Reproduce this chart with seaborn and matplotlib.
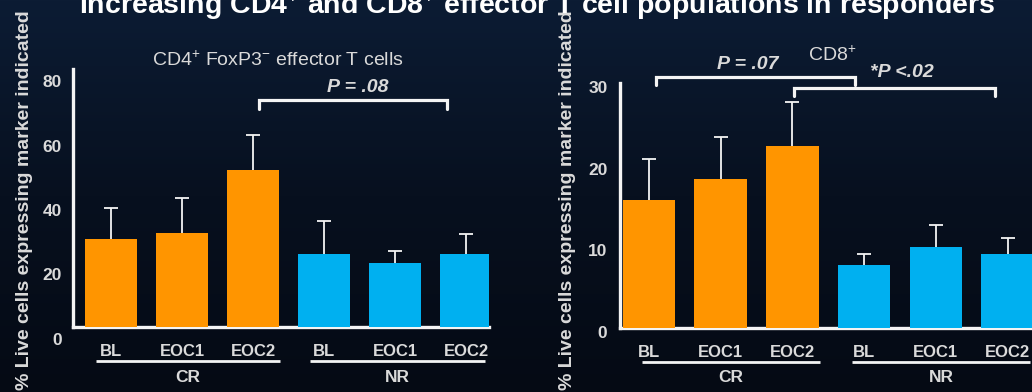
import numpy as np
import pandas as pd
import matplotlib
matplotlib.use("Agg")
import matplotlib.pyplot as plt
import seaborn as sns
from matplotlib.colors import LinearSegmentedColormap
from matplotlib.transforms import ScaledTranslation, blended_transform_factory

# ---- data -------------------------------------------------------------
timepoints = ["BL", "EOC1", "EOC2"]
groups = ["CR", "NR"]
cd4_mean = [27.3, 29.1, 48.7, 22.6, 19.8, 22.6]
cd4_err = [9.6, 10.9, 10.8, 10.3, 3.8, 6.2]
cd8_mean = [15.7, 18.2, 22.3, 7.7, 9.9, 9.1]
cd8_err = [5.0, 5.2, 5.4, 1.4, 2.7, 1.9]
cd4_yticks = [0, 20, 40, 60, 80]
cd8_yticks = [0, 10, 20, 30]
group_colors = {"CR": "#FF9500", "NR": "#00B0F0"}

# ---- style ------------------------------------------------------------
sns.set_theme(style="white")
plt.rcParams["font.family"] = ["Liberation Sans", "DejaVu Sans"]
plt.rcParams["mathtext.fontset"] = "custom"
plt.rcParams["mathtext.rm"] = "Liberation Sans"
plt.rcParams["mathtext.bf"] = "Liberation Sans:bold"
plt.rcParams["mathtext.it"] = "Liberation Sans:italic"
plt.rcParams["mathtext.bfit"] = "Liberation Sans:bold:italic"

FG = "#f4f4f4"
TXT = "#dadada"
W, H = 1032, 392
fig = plt.figure(figsize=(W / 100, H / 100), dpi=100)

# dark navy backdrop, darker at the top
bg = fig.add_axes([0, 0, 1, 1], zorder=-10)
grad = np.linspace(1, 0, 256).reshape(-1, 1)
cmap = LinearSegmentedColormap.from_list("navy", ["#050a14", "#07101f", "#0c1c34"])
bg.imshow(grad, aspect="auto", cmap=cmap, extent=[0, 1, 0, 1], vmin=0, vmax=1)
bg.axis("off")


def px_axes(left, right, top, bottom):
    return fig.add_axes([left / W, 1 - bottom / H, (right - left) / W, (bottom - top) / H])


def below_axis(ax, dy_px):
    """x in data units, y measured in pixels under the x axis."""
    return blended_transform_factory(ax.transData, ax.transAxes) + \
        ScaledTranslation(0, -dy_px / 100, fig.dpi_scale_trans)


def panel(ax, mean, err, yticks, xlim, tick_dir, tick_len, tick_pad, label_drop):
    cond = [f"{g} {t}" for g in groups for t in timepoints]
    df = pd.DataFrame({"cond": cond, "group": np.repeat(groups, 3), "value": mean})
    sns.barplot(data=df, x="cond", y="value", hue="group", palette=group_colors,
                dodge=False, width=0.73, errorbar=None, legend=False,
                saturation=1, ax=ax, zorder=3, linewidth=0, edgecolor="none")
    pos = np.arange(len(mean))
    eb = ax.errorbar(pos, mean, yerr=[np.zeros(len(err)), err], fmt="none",
                     ecolor=FG, elinewidth=1.3, capsize=5, capthick=1.3, zorder=2)
    # upper-only error bars: hide the caps sitting on the bar tops
    eb[1][0].set_visible(False)

    ax.set_facecolor("none")
    ax.set_xlim(*xlim)
    ax.set_ylim(yticks[0], yticks[-1])
    ax.set_yticks(yticks)
    ax.set_yticklabels([str(v) for v in yticks], fontsize=12.5,
                       fontweight="bold", color=TXT)
    ax.set_xticks(pos)
    ax.set_xticklabels(timepoints * 2, fontsize=12, fontweight="bold", color=TXT)
    ax.set_xlabel("")
    ax.set_ylabel("")
    ax.tick_params(axis="x", length=0, pad=12.5)
    ax.tick_params(axis="y", direction=tick_dir, length=tick_len, width=2.3,
                   color=FG, pad=tick_pad)
    for s in ["top", "right"]:
        ax.spines[s].set_visible(False)
    for s in ["left", "bottom"]:
        ax.spines[s].set_color(FG)
        ax.spines[s].set_linewidth(2.4)
    for lbl in ax.get_yticklabels():
        lbl.set_transform(lbl.get_transform() +
                          ScaledTranslation(0, -label_drop / 100, fig.dpi_scale_trans))


def group_rules(ax, spans):
    for name, (x0, x1) in zip(groups, spans):
        tr = below_axis(ax, 34)
        ax.plot([x0, x1], [0, 0], color=FG, lw=2.0, transform=tr,
                clip_on=False, solid_capstyle="butt")
        ax.text((x0 + x1) / 2, 0, name, transform=below_axis(ax, 50), ha="center",
                va="center", fontsize=12.5, fontweight="bold", color=TXT)


def bracket(ax, x0, x1, y, drop_left, drop_right, label, lx, ly):
    ax.plot([x0, x0, x1, x1], [y - drop_left, y, y, y - drop_right], color=FG,
            lw=2.3, clip_on=False, solid_joinstyle="miter")
    ax.text(lx, ly, label, ha="center", va="center", fontsize=14,
            fontweight="bold", fontstyle="italic", color=TXT, clip_on=False)


# ---- CD4 panel -------------------------------------------------------
ax1 = px_axes(73, 489.4, 69, 327)
panel(ax1, cd4_mean, cd4_err, cd4_yticks, (-0.535, 5.33), "out", 7, 1, 12)
group_rules(ax1, [(-0.21, 2.38), (2.80, 5.27)])
bracket(ax1, 2.08, 4.73, 70.4, 2.8, 2.8, "P = .08", 3.48, 74.4)
ax1.text(2.35, 82.7, "CD4$^{+}$ FoxP3$^{-}$ effector T cells", ha="center",
         va="center", fontsize=14, color=TXT, clip_on=False)

# ---- CD8 panel -------------------------------------------------------
ax2 = px_axes(620, 1036.4, 83, 328)
panel(ax2, cd8_mean, cd8_err, cd8_yticks, (-0.40, 5.40), "inout", 14, 2, 4)
group_rules(ax2, [(-0.10, 2.38), (2.83, 5.31)])
bracket(ax2, 0.10, 2.87, 30.7, 1.0, 1.0, "P = .07", 1.38, 32.3)
bracket(ax2, 2.03, 4.82, 29.4, 1.0, 1.0, "*P <.02", 3.52, 31.3)
ax2.text(2.55, 33.4, "CD8$^{+}$", ha="center", va="center", fontsize=14,
         color=TXT, clip_on=False)

# ---- shared text -----------------------------------------------------
ylab = "% Live cells expressing marker indicated"
for xpx in (25, 568):
    fig.text(xpx / W, 1 - 200 / H, ylab, rotation=90, ha="center", va="center",
             fontsize=14, fontweight="bold", color=TXT)

fig.text(537 / W, 1 - 14 / H,
         "Increasing CD4$^{+}$ and CD8$^{+}$ effector T cell populations in responders",
         ha="center", va="baseline", fontsize=20.5, fontweight="bold", color="white")

fig.savefig("out.png", dpi=100, facecolor=fig.get_facecolor())
